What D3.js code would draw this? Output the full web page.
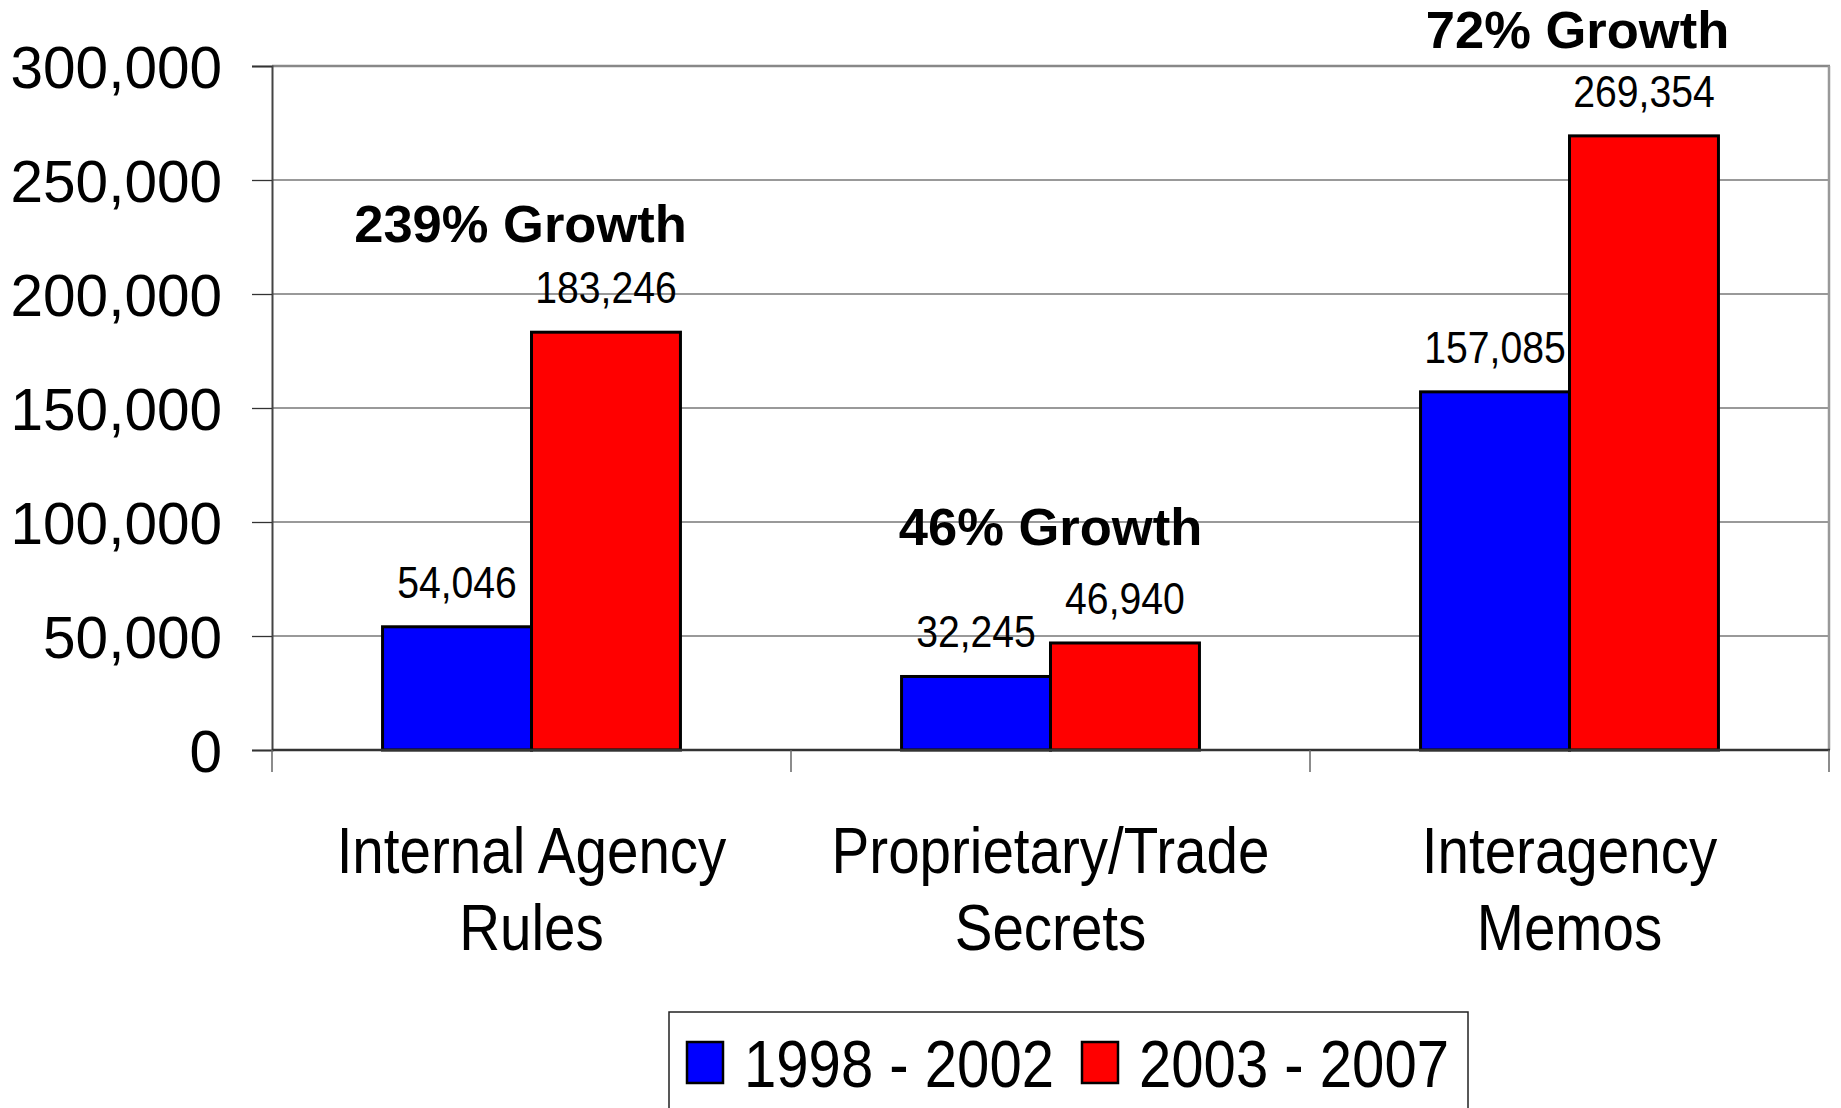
<!DOCTYPE html>
<html>
<head>
<meta charset="utf-8">
<script src="https://cdn.jsdelivr.net/npm/d3@7"></script>
<style>
  body { margin: 0; background: #fff; }
  text { font-family: "Liberation Sans", Arial, sans-serif; fill: #000; }
</style>
</head>
<body>
<div id="plot"></div>
<script>
// chart data
const categories = ["Internal Agency Rules", "Proprietary/Trade Secrets", "Interagency Memos"];
const categoryLines = [["Internal Agency", "Rules"], ["Proprietary/Trade", "Secrets"], ["Interagency", "Memos"]];
const seriesNames = ["1998 - 2002", "2003 - 2007"];
const values1998 = [54046, 32245, 157085];
const values2003 = [183246, 46940, 269354];
const growthLabels = ["239% Growth", "46% Growth", "72% Growth"];
const yTicks = [0, 50000, 100000, 150000, 200000, 250000, 300000];
const colors = ["#0000ff", "#ff0000"];

// annotation placement (layout, not data)
const growthPos = [{dx: -11, v: 223000}, {dx: 0, v: 90000}, {dx: 8, v: 307800}];

const width = 1841, height = 1108;
const margin = {left: 272, right: 12, top: 66, bottom: 358};

const svg = d3.select("#plot").append("svg")
    .attr("width", width)
    .attr("height", height);

const x0 = d3.scaleBand()
    .domain(categories)
    .range([margin.left, width - margin.right])
    .paddingInner(0.426)
    .paddingOuter(0.213);

const x1 = d3.scaleBand()
    .domain(seriesNames)
    .range([0, x0.bandwidth()]);

const y = d3.scaleLinear()
    .domain([0, 300000])
    .range([height - margin.bottom, margin.top]);

const plotL = margin.left, plotR = width - margin.right;
const plotT = margin.top, plotB = height - margin.bottom;

// squeezed text helper (reference fonts are a touch narrow)
const sqText = (g, xx, yy, str, size, sx, anchor, weight) =>
    g.append("text")
        .attr("transform", `translate(${xx},${yy}) scale(${sx},1)`)
        .attr("text-anchor", anchor)
        .style("font-size", size + "px")
        .style("font-weight", weight || "normal")
        .text(str);

// gridlines
svg.append("g").selectAll("line")
    .data(yTicks.filter(d => d > 0 && d < 300000))
    .enter().append("line")
    .attr("x1", plotL).attr("x2", plotR)
    .attr("y1", d => y(d)).attr("y2", d => y(d))
    .attr("stroke", "#777")
    .attr("stroke-width", 1.3);

// plot frame top and right
svg.append("line")
    .attr("x1", plotL).attr("x2", plotR + 1)
    .attr("y1", y(300000)).attr("y2", y(300000))
    .attr("stroke", "#888").attr("stroke-width", 2.5);
svg.append("line")
    .attr("x1", plotR).attr("x2", plotR)
    .attr("y1", y(300000)).attr("y2", plotB)
    .attr("stroke", "#999").attr("stroke-width", 2.5);

// y axis
const yAxis = svg.append("g")
    .attr("transform", `translate(${plotL},0)`)
    .call(d3.axisLeft(y).tickValues(yTicks).tickSize(20).tickPadding(30).tickFormat(d3.format(",")));
yAxis.select(".domain").attr("stroke", "#444").attr("stroke-width", 2);
yAxis.selectAll(".tick line").attr("stroke", "#333").attr("stroke-width", 1.3);
yAxis.selectAll(".tick text").remove();
yTicks.forEach(t => {
    sqText(svg, plotL - 50, y(t) + 22, d3.format(",")(t), 60, 0.975, "end");
});

// bars
const groups = svg.append("g").selectAll("g")
    .data(categories)
    .enter().append("g")
    .attr("transform", d => `translate(${x0(d)},0)`);

groups.selectAll("rect")
    .data((d, i) => [
        {s: seriesNames[0], v: values1998[i], c: colors[0]},
        {s: seriesNames[1], v: values2003[i], c: colors[1]}
    ])
    .enter().append("rect")
    .attr("x", d => x1(d.s))
    .attr("y", d => y(d.v))
    .attr("width", x1.bandwidth())
    .attr("height", d => y(0) - y(d.v))
    .attr("fill", d => d.c)
    .attr("stroke", "#000")
    .attr("stroke-width", 3);

// value labels
categories.forEach((cat, i) => {
    [values1998[i], values2003[i]].forEach((v, j) => {
        const cx = x0(cat) + x1(seriesNames[j]) + x1.bandwidth() / 2;
        sqText(svg, cx, y(v) - 29, d3.format(",")(v), 44, 0.89, "middle");
    });
});

// x axis baseline and category ticks
svg.append("line")
    .attr("x1", plotL).attr("x2", plotR + 1)
    .attr("y1", plotB).attr("y2", plotB)
    .attr("stroke", "#333").attr("stroke-width", 2.5);

const bounds = categories.map(c => x0(c) - x0.step() * x0.paddingInner() / 2).concat([plotR]);
svg.append("g").selectAll("line")
    .data(bounds)
    .enter().append("line")
    .attr("x1", d => d).attr("x2", d => d)
    .attr("y1", plotB).attr("y2", plotB + 22)
    .attr("stroke", "#666").attr("stroke-width", 1.5);

// category labels
categories.forEach((cat, i) => {
    const cx = x0(cat) + x0.bandwidth() / 2;
    sqText(svg, cx, 873, categoryLines[i][0], 65, 0.87, "middle");
    sqText(svg, cx, 950, categoryLines[i][1], 65, 0.87, "middle");
});

// growth annotations
categories.forEach((cat, i) => {
    const cx = x0(cat) + x0.bandwidth() / 2 + growthPos[i].dx;
    sqText(svg, cx, y(growthPos[i].v), growthLabels[i], 52, 1.01, "middle", "bold");
});

// legend
const legend = svg.append("g");
legend.append("rect")
    .attr("x", 669).attr("y", 1012)
    .attr("width", 799).attr("height", 130)
    .attr("fill", "#fff")
    .attr("stroke", "#222")
    .attr("stroke-width", 1.5);

const legendX = [687, 1082];
seriesNames.forEach((s, i) => {
    legend.append("rect")
        .attr("x", legendX[i]).attr("y", 1042)
        .attr("width", 36).attr("height", 41)
        .attr("fill", colors[i])
        .attr("stroke", "#000")
        .attr("stroke-width", 2.5);
    sqText(legend, legendX[i] + 57, 1087, s, 66, 0.88, "start");
});
</script>
</body>
</html>
